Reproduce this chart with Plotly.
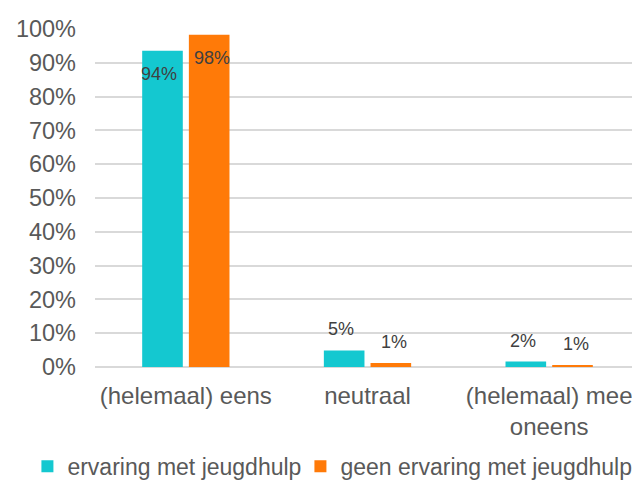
import plotly.graph_objects as go

categories = ["(helemaal) eens", "neutraal", "(helemaal) mee<br>oneens"]
series_names = ["ervaring met jeugdhulp", "geen ervaring met jeugdhulp"]
met_ervaring = [93.6, 4.9, 1.6]
geen_ervaring = [98.3, 1.2, 0.6]
labels_met = ["94%", "5%", "2%"]
labels_geen = ["98%", "1%", "1%"]
tick_vals = [0, 10, 20, 30, 40, 50, 60, 70, 80, 90, 100]
tick_text = [f"{v}%" for v in tick_vals]

colors = ["#14C8D0", "#FF7A08"]
font_family = "Arial, Liberation Sans, sans-serif"

fig = go.Figure()
fig.add_trace(go.Bar(name=series_names[0], x=categories, y=met_ervaring,
                     marker=dict(color=colors[0], line=dict(width=0)),
                     legendwidth=228))
fig.add_trace(go.Bar(name=series_names[1], x=categories, y=geen_ervaring,
                     marker=dict(color=colors[1], line=dict(width=0)),
                     legendwidth=300))

annotations = []
for vals, labs, xs in [(met_ervaring, labels_met, -26.5), (geen_ervaring, labels_geen, 26.5)]:
    for c, v, t in zip(categories, vals, labs):
        annotations.append(dict(
            x=c, y=v, text=t, showarrow=False, xref="x", yref="y",
            xshift=xs, yshift=(-23 if v > 50 else 21),
            font=dict(size=18, color="#404040", family=font_family),
        ))

fig.update_layout(
    width=640, height=488,
    margin=dict(l=83, r=8, t=16, b=129),
    paper_bgcolor="white", plot_bgcolor="white",
    barmode="group", bargap=0.486, bargroupgap=0.13,
    font=dict(family=font_family, size=23, color="#595959"),
    annotations=annotations,
    showlegend=True,
    legend=dict(orientation="h", x=-0.124, xanchor="left", y=-0.294, yanchor="middle",
                font=dict(size=23, color="#595959"), itemclick=False),
    xaxis=dict(showgrid=False, zeroline=False, showline=False, ticks="",
               ticklabelstandoff=12, tickfont=dict(size=24, color="#595959")),
    yaxis=dict(range=[0, 100], tickvals=tick_vals, ticktext=tick_text,
               showgrid=True, gridcolor="#D9D9D9", gridwidth=1.5,
               zeroline=True, zerolinecolor="#D9D9D9", zerolinewidth=1.5,
               showline=False, ticks="", ticklabelstandoff=18,
               tickfont=dict(size=23.5, color="#595959")),
)

fig.write_html("out.html")
